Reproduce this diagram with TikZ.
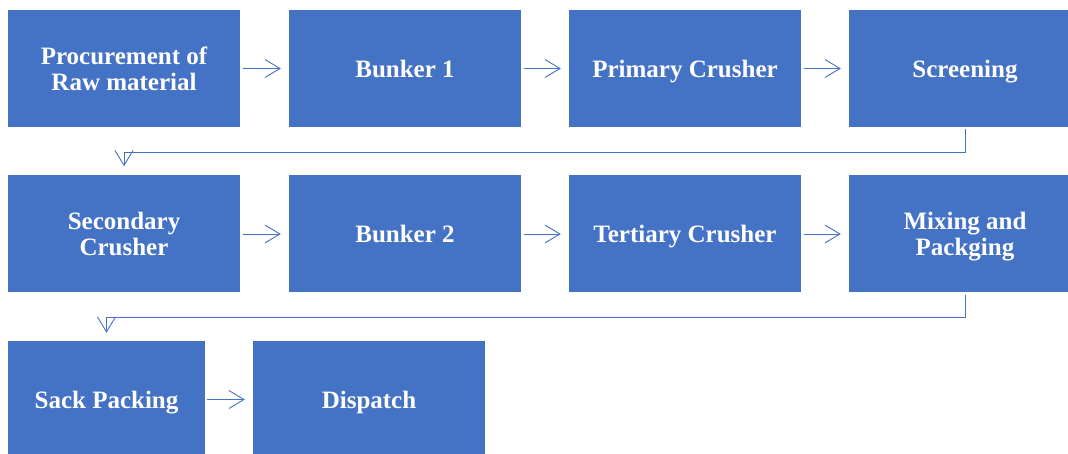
\documentclass[tikz,border=0pt]{standalone}
\usepackage{fontspec}
\setmainfont{Liberation Serif}
\usetikzlibrary{arrows.meta}
\definecolor{boxblue}{HTML}{4472C4}

\begin{document}
\begin{tikzpicture}[x=1pt, y=1pt,
		stage/.style={fill=boxblue, text=white, minimum width=232pt, minimum height=117pt,
			inner sep=0pt, align=center, text depth=0pt, font=\fontsize{25}{26}\selectfont\bfseries},
		link/.style={draw=boxblue, line width=0.9pt, -{Straight Barb[length=15pt, width=18pt]},
			shorten <=3pt, shorten >=8pt}]
		%%%%% START %%%%%
		
		\useasboundingbox (0, 0) rectangle (1068, 454);
		
		\node[stage] (procure) at (124, 385.5) {Procurement of\\Raw material};
		\node[stage] (bunkerA) at (405, 385.5) {Bunker 1};
		\node[stage] (primary) at (685, 385.5) {Primary Crusher};
		\node[stage] (screen) at (965, 385.5) {Screening};
		
		\node[stage] (second) at (124, 220) {Secondary\\Crusher};
		\node[stage] (bunkerB) at (405, 220) {Bunker 2};
		\node[stage] (tertiary) at (685, 220) {Tertiary Crusher};
		\node[stage] (mixing) at (965, 220) {Mixing and\\Packging};
		
		\node[stage, minimum width=197pt] (sack) at (106.5, 54.5) {Sack Packing};
		\node[stage] (dispatch) at (369, 54.5) {Dispatch};
		
		\draw[link] (procure) -- (bunkerA);
		\draw[link] (bunkerA) -- (primary);
		\draw[link] (primary) -- (screen);
		\draw[link, shorten <=2pt, shorten >=9pt] (screen.south) -- ++(0, -25) -| (second.north);
		
		\draw[link] (second) -- (bunkerB);
		\draw[link] (bunkerB) -- (tertiary);
		\draw[link] (tertiary) -- (mixing);
		\draw[link, shorten <=2pt, shorten >=8pt] (mixing.south) -- ++(0, -25) -| (sack.north);
		
		\draw[link, shorten <=2pt] (sack) -- (dispatch);
		
		%%%%% END %%%%%
	\end{tikzpicture}
\end{document}
